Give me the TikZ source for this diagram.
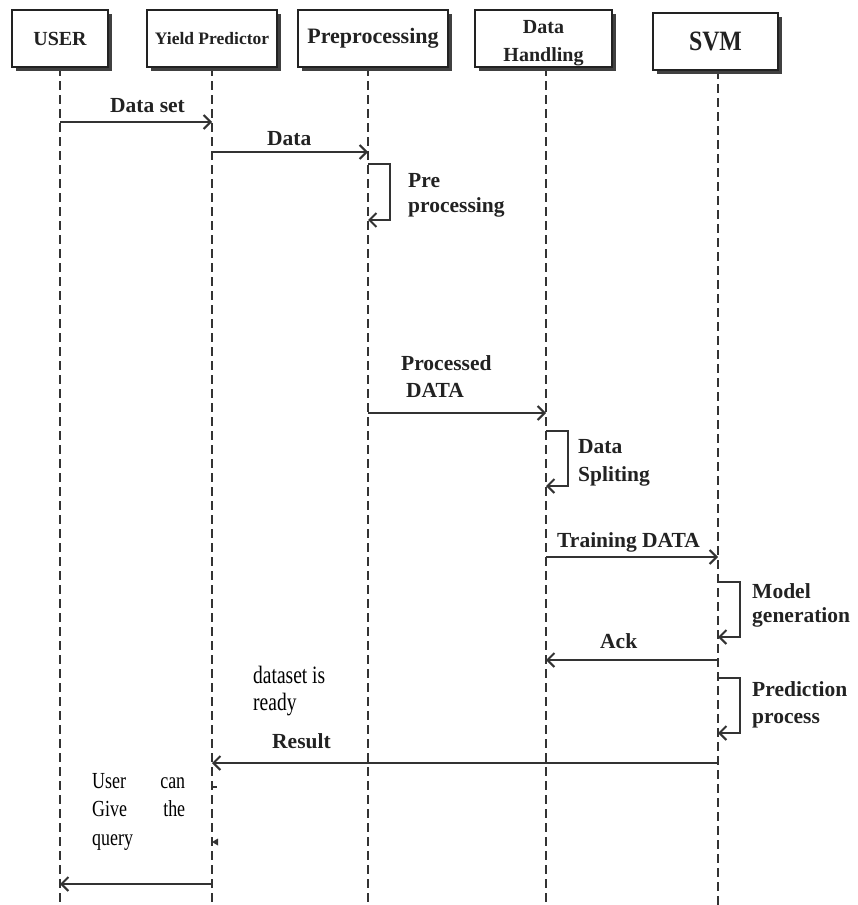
\documentclass[tikz,border=0pt]{standalone}
\usepackage{fontspec}
\setmainfont{Liberation Serif}
\newfontfamily\narrowserif[FakeStretch=0.78]{Liberation Serif}
\newfontfamily\svmserif[FakeStretch=0.85]{Liberation Serif}
\usetikzlibrary{arrows.meta,shadows}

\definecolor{ink}{HTML}{222222}
\definecolor{wire}{HTML}{333333}

\tikzset{
  head/.style={draw=ink, line width=1.6pt, fill=white, minimum height=57pt,
    inner sep=0pt, align=center, text=ink,
    drop shadow={shadow xshift=4pt, shadow yshift=-4pt, opacity=1, fill=black!75}},
  life/.style={draw=wire, line width=1.5pt, dash pattern=on 9pt off 5pt},
  msg/.style={draw=wire, line width=2pt,
    -{Straight Barb[length=7pt,width=14pt,line width=2pt]}},
  lbl/.style={inner sep=0pt, align=left, text=ink},
  note/.style={inner sep=0pt, text=black},
  boldlbl/.style={font=\fontsize{21.5}{#1}\selectfont\bfseries},
  boldlbl/.default=25,
}

\begin{document}
\begin{tikzpicture}[x=1pt,y=-1pt]
\useasboundingbox (0,0) rectangle (857,905);

% lifeline ends
\coordinate (lu) at (60,67);
\coordinate (ly) at (212,67);
\coordinate (lp) at (368,67);
\coordinate (ld) at (546,67);
\coordinate (ls) at (718,70);
\coordinate (lu2) at (60,905);
\coordinate (ly2) at (212,905);
\coordinate (lp2) at (368,905);
\coordinate (ld2) at (546,905);
\coordinate (ls2) at (718,905);

% lifelines
\draw[life] (lu) -- (lu2);
\draw[life] (ly) -- (ly2);
\draw[life] (lp) -- (lp2);
\draw[life] (ld) -- (ld2);
\draw[life] (ls) -- (ls2);

% participants
\node[head, minimum width=96pt, font=\fontsize{20}{24}\selectfont\bfseries]
  (user) at (60,38.5) {USER};
\node[head, minimum width=130pt, font=\fontsize{17.5}{20}\selectfont\bfseries]
  (yield) at (212,38.5) {Yield Predictor};
\node[head, minimum width=150pt, font=\fontsize{22}{26}\selectfont\bfseries]
  (prep) at (373,38.5) {Preprocessing};
\node[head, minimum width=137pt] (dh) at (543.5,38.5) {};
\node[lbl, align=center, anchor=north, font=\fontsize{20}{28}\selectfont\bfseries]
  (dhtext) at (543.5,20) {Data\\Handling};
\node[head, minimum width=125pt, font=\fontsize{28}{30}\selectfont\svmserif\bfseries]
  (svm) at (715.5,41.5) {SVM};

% messages
\draw[msg] (lu |- 0,122) -- (ly |- 0,122);
\node[lbl, boldlbl, anchor=base west] (m1) at (110,112) {Data set};

\draw[msg] (ly |- 0,152) -- (lp |- 0,152);
\node[lbl, boldlbl, anchor=base west] (m2) at (267,145) {Data};

\draw[msg] (lp |- 0,164) -- (390,164) |- (lp |- 0,220);
\node[lbl, boldlbl=25, anchor=north west] (m3) at (408,173) {Pre\\processing};

\draw[msg] (lp |- 0,413) -- (ld |- 0,413);
\node[lbl, boldlbl=27, anchor=north west] (m4) at (401,355) {Processed\\\hspace*{5pt}DATA};

\draw[msg] (ld |- 0,431) -- (568,431) |- (ld |- 0,486);
\node[lbl, boldlbl=28, anchor=north west] (m5) at (578,439) {Data\\Spliting};

\draw[msg] (ld |- 0,557) -- (ls |- 0,557);
\node[lbl, boldlbl, anchor=base west] (m6) at (557,547) {Training DATA};

\draw[msg] (ls |- 0,582) -- (740,582) |- (ls |- 0,637);
\node[lbl, boldlbl=24, anchor=north west] (m7) at (752,583) {Model\\generation};

\draw[msg] (ls |- 0,660) -- (ld |- 0,660);
\node[lbl, boldlbl, anchor=base west] (m8) at (600,648) {Ack};

\draw[msg] (ls |- 0,678) -- (740,678) |- (ls |- 0,733);
\node[lbl, boldlbl=27, anchor=north west] (m9) at (752,681) {Prediction\\process};

\node[note, align=left, anchor=north west, font=\fontsize{25}{27}\selectfont\narrowserif]
  (n1) at (253,666) {dataset is\\ready};

\draw[msg] (ls |- 0,763) -- (ly |- 0,763);
\node[lbl, boldlbl, anchor=base west] (m10) at (272,748) {Result};

\node[note, align=justify, text width=93pt, anchor=north west,
  font=\fontsize{23}{28.5}\selectfont\narrowserif]
  (n2) at (92,773) {User\hfill can\\Give\hfill the\\query};

% small marks on the predictor lifeline
\draw[wire, line width=1.2pt] (ly |- 0,787) -- ++(5,0);
\fill[wire] (ly |- 0,842) -- ++(6,-3.5) -- ++(0,7) -- cycle;

\draw[msg] (ly |- 0,884) -- (lu |- 0,884);
\end{tikzpicture}
\end{document}
